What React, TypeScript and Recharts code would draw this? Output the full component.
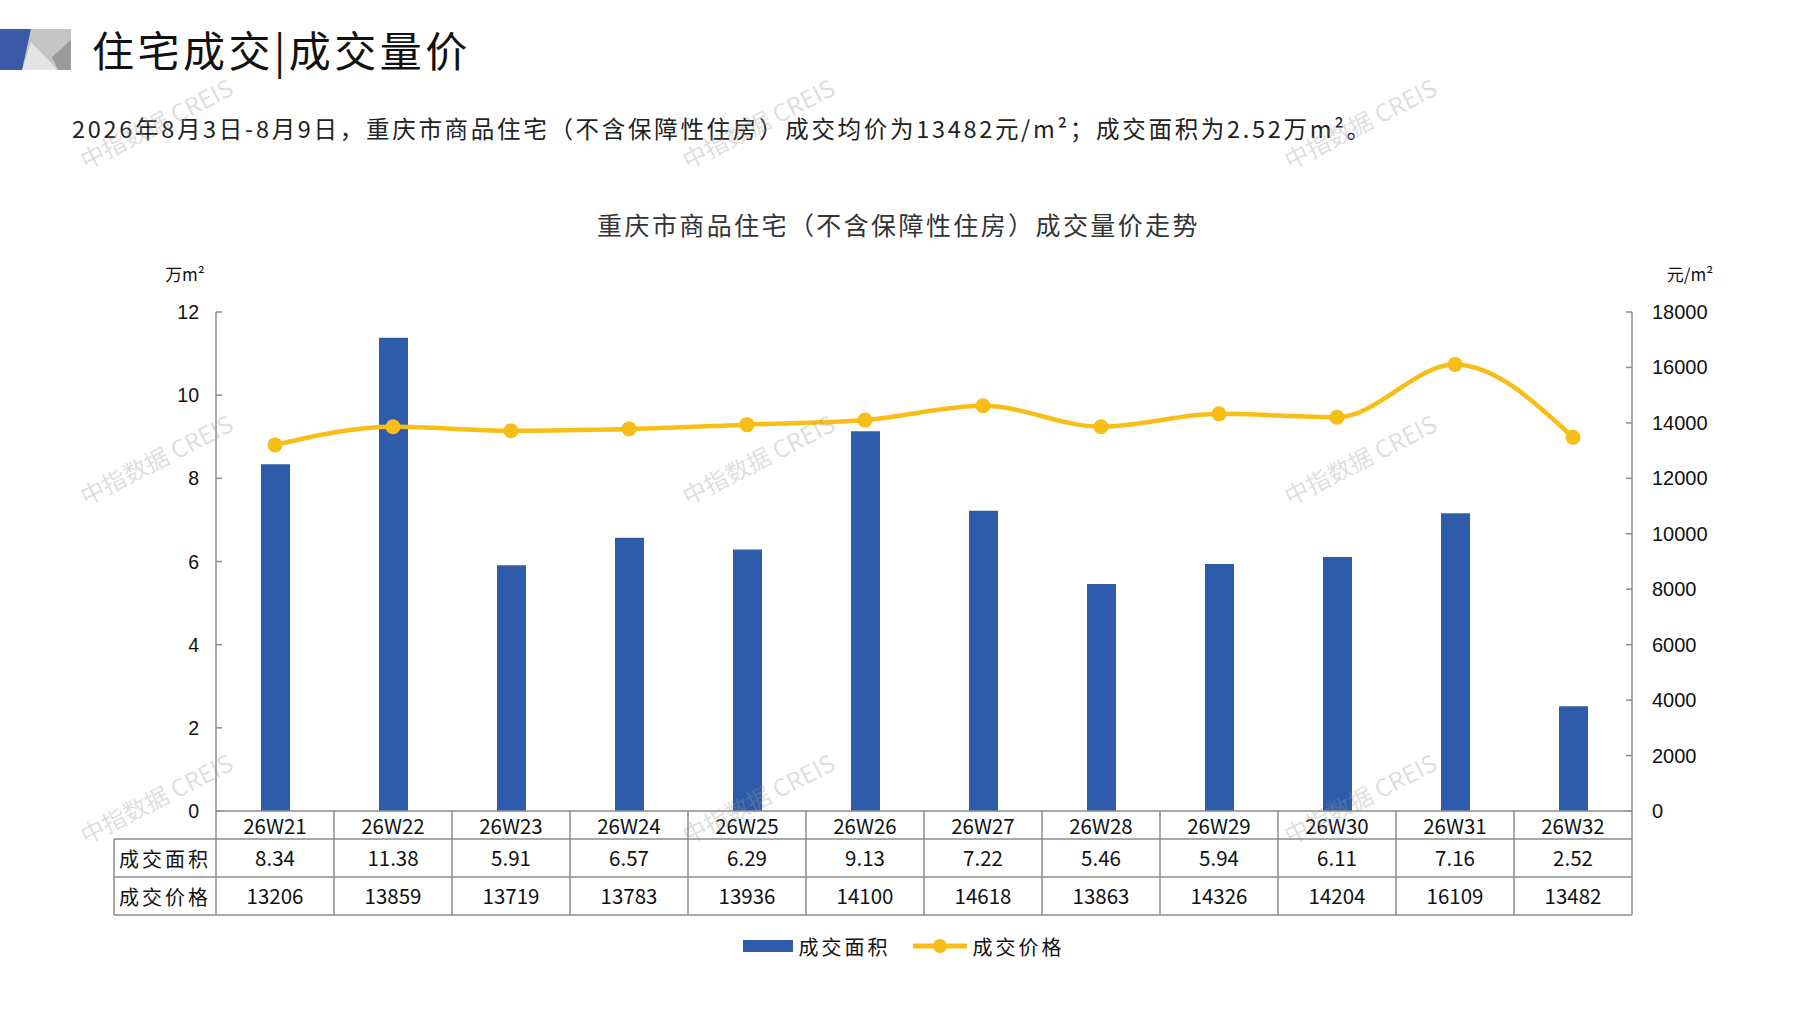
import React from 'react';
import { ComposedChart, Bar, Line, XAxis, YAxis, Legend } from 'recharts';

const weeks = ['26W21', '26W22', '26W23', '26W24', '26W25', '26W26', '26W27', '26W28', '26W29', '26W30', '26W31', '26W32'];
const areaValues = [8.34, 11.38, 5.91, 6.57, 6.29, 9.13, 7.22, 5.46, 5.94, 6.11, 7.16, 2.52];
const priceValues = [13206, 13859, 13719, 13783, 13936, 14100, 14618, 13863, 14326, 14204, 16109, 13482];
const areaTicks = [0, 2, 4, 6, 8, 10, 12];
const priceTicks = [0, 2000, 4000, 6000, 8000, 10000, 12000, 14000, 16000, 18000];
const seriesNames = { area: '成交面积', price: '成交价格' };
const legendOrder = ['area', 'price'];

const data = weeks.map((week, i) => ({ week, area: areaValues[i], price: priceValues[i] }));

const W = 1797;
const H = 1010;
const PLOT_LEFT = 216;
const PLOT_RIGHT = 1632;
const COL_W = (PLOT_RIGHT - PLOT_LEFT) / weeks.length;
const TABLE_LEFT = 114;
const GRID = '#8c8c8c';
const BLUE = '#2e5caa';
const GOLD = '#f8be16';
const CJK = '"Noto Sans CJK SC", "Noto Sans", sans-serif';
const NUM = '"Liberation Sans", Arial, sans-serif';

const watermarks = [
  [156, 123], [758, 123], [1360, 123],
  [156, 459], [758, 459], [1360, 459],
  [156, 798], [758, 798], [1360, 798],
];

const LeftTick = (props: any) => {
  const { x, y, payload } = props;
  return (
    <g>
      <line x1={x + 17} x2={x + 23} y1={y} y2={y} stroke={GRID} strokeWidth={1.5} />
      <text x={x} y={y} textAnchor="end" dominantBaseline="central" fontSize={19.5} fontFamily={NUM} fill="#111">
        {payload.value}
      </text>
    </g>
  );
};

const RightTick = (props: any) => {
  const { x, y, payload } = props;
  return (
    <g>
      <line x1={x - 20} x2={x - 26} y1={y} y2={y} stroke={GRID} strokeWidth={1.5} />
      <text x={x} y={y} textAnchor="start" dominantBaseline="central" fontSize={20} fontFamily={NUM} fill="#111">
        {payload.value}
      </text>
    </g>
  );
};

// the data table under the axis is drawn one column per tick
const TableTick = (props: any) => {
  const { x, y, index } = props;
  const row = data[index];
  const l = x - COL_W / 2;
  const r = x + COL_W / 2;
  const r1 = y + 28;
  const r2 = y + 66;
  const r3 = y + 104;
  const txt = { fontSize: 20.5, fontFamily: CJK, fill: '#111', textAnchor: 'middle' as const, dominantBaseline: 'central' as const };
  return (
    <g>
      {index === 0 && (
        <g>
          <line x1={TABLE_LEFT} x2={l} y1={r1} y2={r1} stroke={GRID} strokeWidth={1.5} />
          <line x1={TABLE_LEFT} x2={l} y1={r2} y2={r2} stroke={GRID} strokeWidth={1.5} />
          <line x1={TABLE_LEFT} x2={l} y1={r3} y2={r3} stroke={GRID} strokeWidth={1.5} />
          <line x1={TABLE_LEFT} x2={TABLE_LEFT} y1={r1} y2={r3} stroke={GRID} strokeWidth={1.5} />
          <text {...txt} fontSize={20} x={(TABLE_LEFT + l) / 2} y={(r1 + r2) / 2} letterSpacing={3}>{seriesNames.area}</text>
          <text {...txt} fontSize={20} x={(TABLE_LEFT + l) / 2} y={(r2 + r3) / 2} letterSpacing={3}>{seriesNames.price}</text>
          <line x1={l} x2={l} y1={y} y2={r3} stroke={GRID} strokeWidth={1.5} />
        </g>
      )}
      <line x1={r} x2={r} y1={y} y2={r3} stroke={GRID} strokeWidth={1.5} />
      <line x1={l} x2={r} y1={r1} y2={r1} stroke={GRID} strokeWidth={1.5} />
      <line x1={l} x2={r} y1={r2} y2={r2} stroke={GRID} strokeWidth={1.5} />
      <line x1={l} x2={r} y1={r3} y2={r3} stroke={GRID} strokeWidth={1.5} />
      <text {...txt} x={x} y={y + 14}>{row.week}</text>
      <text {...txt} x={x} y={(r1 + r2) / 2 - 1}>{row.area.toFixed(2)}</text>
      <text {...txt} x={x} y={(r2 + r3) / 2 - 1}>{row.price}</text>
    </g>
  );
};

const LegendContent = (props: any) => {
  const items = [...(props.payload || [])].sort(
    (a: any, b: any) => legendOrder.indexOf(a.dataKey) - legendOrder.indexOf(b.dataKey)
  );
  return (
    <div style={{ height: 30, display: 'flex', justifyContent: 'center', alignItems: 'center', paddingLeft: 10 }}>
      {items.map((item: any, i: number) => (
        <div key={item.value} style={{ display: 'flex', alignItems: 'center', marginLeft: i === 0 ? 0 : 22 }}>
          {item.dataKey === 'area' ? (
            <svg width={50} height={12} style={{ marginRight: 6 }}>
              <rect x={0} y={0} width={50} height={12} fill={BLUE} />
            </svg>
          ) : (
            <svg width={54} height={16} style={{ marginRight: 6 }}>
              <line x1={0} x2={54} y1={8} y2={8} stroke={GOLD} strokeWidth={5} />
              <circle cx={27} cy={8} r={7} fill={GOLD} />
            </svg>
          )}
          <span style={{ fontFamily: CJK, fontSize: 20, color: '#111', letterSpacing: 3 }}>{item.value}</span>
        </div>
      ))}
    </div>
  );
};

const HeaderMark = () => (
  <svg width={71} height={41} style={{ position: 'absolute', left: 0, top: 29 }}>
    <polygon points="0,0 71,0 71,41 0,41" fill="#c4c4c4" />
    <polygon points="22,41 31,13 58,41" fill="#e4e4e4" />
    <polygon points="52,28 71,11 71,41 58,41" fill="#9a9a9a" />
    <polygon points="0,0 31,0 22,41 0,41" fill="#3a5aa8" />
  </svg>
);

export default function App() {
  return (
    <div style={{ position: 'absolute', left: 0, top: 0, width: W, height: H, background: '#fff', overflow: 'hidden' }}>
      <HeaderMark />
      <div style={{ position: 'absolute', left: 92, top: 21, fontFamily: CJK, fontSize: 42, letterSpacing: 3.5, color: '#111', lineHeight: '56px', whiteSpace: 'nowrap' }}>
        住宅成交|成交量价
      </div>
      <div style={{ position: 'absolute', left: 72, top: 113, fontFamily: CJK, fontSize: 23.5, letterSpacing: 2.7, color: '#222', lineHeight: '30px', whiteSpace: 'nowrap' }}>
        2026年8月3日-8月9日，重庆市商品住宅（不含保障性住房）成交均价为13482元/m²；成交面积为2.52万m²。
      </div>
      <div style={{ position: 'absolute', left: 0, width: W, top: 209, textAlign: 'center', fontFamily: CJK, fontSize: 25, letterSpacing: 2.4, color: '#333', lineHeight: '30px', whiteSpace: 'nowrap' }}>
        重庆市商品住宅（不含保障性住房）成交量价走势
      </div>
      <ComposedChart
        width={W}
        height={H}
        data={data}
        margin={{ top: 312, left: PLOT_LEFT - 60, right: W - PLOT_RIGHT - 60, bottom: 49 }}
        style={{ position: 'absolute', left: 0, top: 0 }}
      >
        <XAxis
          dataKey="week"
          height={120}
          axisLine={{ stroke: GRID, strokeWidth: 1.5 }}
          tickLine={false}
          tickSize={0}
          tickMargin={0}
          interval={0}
          tick={<TableTick />}
        />
        <YAxis
          yAxisId="left"
          orientation="left"
          width={60}
          domain={[0, 12]}
          ticks={areaTicks}
          axisLine={{ stroke: GRID, strokeWidth: 1.5 }}
          tickLine={false}
          tickSize={0}
          tickMargin={17}
          tick={<LeftTick />}
          label={{ value: '万m²', position: 'top', offset: 31, dx: -1, fontSize: 17, fontFamily: CJK, fill: '#111' }}
        />
        <YAxis
          yAxisId="right"
          orientation="right"
          width={60}
          domain={[0, 18000]}
          ticks={priceTicks}
          axisLine={{ stroke: GRID, strokeWidth: 1.5 }}
          tickLine={false}
          tickSize={0}
          tickMargin={20}
          tick={<RightTick />}
          label={{ value: '元/m²', position: 'top', offset: 31, dx: 28, fontSize: 17, fontFamily: CJK, fill: '#111' }}
        />
        <Legend
          verticalAlign="bottom"
          content={<LegendContent />}
          wrapperStyle={{ left: 0, width: W, height: 30 }}
        />
        <Bar yAxisId="left" dataKey="area" name={seriesNames.area} fill={BLUE} barSize={29} isAnimationActive={false} />
        <Line
          yAxisId="right"
          dataKey="price"
          name={seriesNames.price}
          type="monotone"
          stroke={GOLD}
          strokeWidth={4.5}
          dot={{ r: 7.5, fill: GOLD, stroke: GOLD, strokeWidth: 0 }}
          activeDot={false}
          isAnimationActive={false}
        />
      </ComposedChart>
      <div style={{ position: 'absolute', left: 0, top: 0, width: W, height: H, pointerEvents: 'none' }}>
        {watermarks.map(([cx, cy], i) => (
          <div
            key={i}
            style={{
              position: 'absolute',
              left: cx - 100,
              top: cy - 16,
              width: 200,
              textAlign: 'center',
              transform: 'rotate(-27deg)',
              fontFamily: '"Noto Sans CJK SC", sans-serif',
              fontSize: 24,
              lineHeight: '32px',
              color: 'rgba(150,150,150,0.32)',
              whiteSpace: 'nowrap',
            }}
          >
            中指数据 CREIS
          </div>
        ))}
      </div>
    </div>
  );
}
